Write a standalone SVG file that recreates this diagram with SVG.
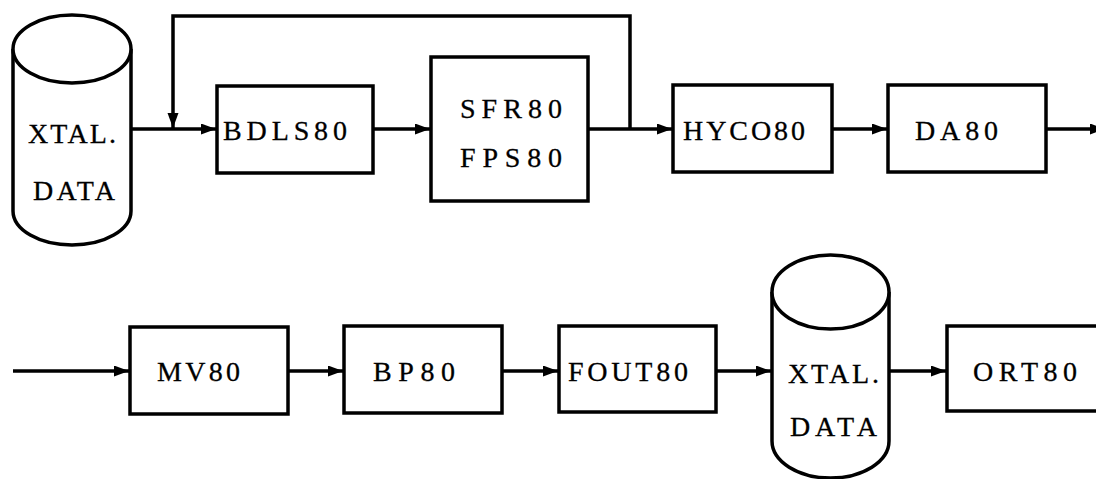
<svg xmlns="http://www.w3.org/2000/svg" width="1096" height="479" viewBox="0 0 1096 479">
<style>
.box{fill:#fff;stroke:#000;stroke-width:3.5}
.cyl{fill:#fff;stroke:#000;stroke-width:3.5}
.t{font-family:"Liberation Serif","Times New Roman",serif;font-size:28px;fill:#000;stroke:#000;stroke-width:0.3;dominant-baseline:central}
.c{fill:none;stroke:#000;stroke-width:3.5}
</style>
<defs>
<marker id="ah" markerUnits="userSpaceOnUse" markerWidth="16" markerHeight="12" refX="15" refY="5.5" orient="auto">
<path d="M0,0 L15,5.5 L0,11 z" fill="#000"/>
</marker>
</defs>
<rect width="1096" height="479" fill="#fff"/>
<g id="connectors">
<path class="c" d="M131,129 L216,129" marker-end="url(#ah)"/>
<path class="c" d="M630,129 L630,16 L173,16 L173,128" marker-end="url(#ah)"/>
<path class="c" d="M373,129 L430,129" marker-end="url(#ah)"/>
<path class="c" d="M588,129 L672,129" marker-end="url(#ah)"/>
<path class="c" d="M832,129 L887,129" marker-end="url(#ah)"/>
<path class="c" d="M1046,129 L1105,129" marker-end="url(#ah)"/>
<path class="c" d="M13,371 L129,371" marker-end="url(#ah)"/>
<path class="c" d="M288,371 L343,371" marker-end="url(#ah)"/>
<path class="c" d="M502,371 L558,371" marker-end="url(#ah)"/>
<path class="c" d="M716,371 L771,371" marker-end="url(#ah)"/>
<path class="c" d="M889,371 L946,371" marker-end="url(#ah)"/>
</g>
<g id="xtal1">
<path class="cyl" d="M13,49 L13,211 A59,34 0 0 0 131,211 L131,49"/>
<ellipse class="cyl" cx="72" cy="49" rx="59" ry="34"/>
<text class="t" x="28" y="133" textLength="88" lengthAdjust="spacing">XTAL.</text>
<text class="t" x="33" y="190" textLength="82" lengthAdjust="spacing">DATA</text>
</g>
<g id="bdls80">
<rect class="box" x="217" y="86" width="156" height="87"/>
<text class="t" x="223" y="130" textLength="124" lengthAdjust="spacing">BDLS80</text>
</g>
<g id="sfr80">
<rect class="box" x="431" y="57" width="157" height="144"/>
<text class="t" x="460" y="108" textLength="102" lengthAdjust="spacing">SFR80</text>
<text class="t" x="460" y="157" textLength="102" lengthAdjust="spacing">FPS80</text>
</g>
<g id="hyco80">
<rect class="box" x="673" y="85" width="159" height="87"/>
<text class="t" x="683" y="130" textLength="122" lengthAdjust="spacing">HYCO80</text>
</g>
<g id="da80">
<rect class="box" x="888" y="85" width="158" height="87"/>
<text class="t" x="915" y="130" textLength="83" lengthAdjust="spacing">DA80</text>
</g>
<g id="mv80">
<rect class="box" x="130" y="327" width="158" height="87"/>
<text class="t" x="157" y="371" textLength="83" lengthAdjust="spacing">MV80</text>
</g>
<g id="bp80">
<rect class="box" x="344" y="326" width="158" height="87"/>
<text class="t" x="373" y="371" textLength="82" lengthAdjust="spacing">BP80</text>
</g>
<g id="fout80">
<rect class="box" x="559" y="326" width="157" height="86"/>
<text class="t" x="568" y="371" textLength="120" lengthAdjust="spacing">FOUT80</text>
</g>
<g id="xtal2">
<path class="cyl" d="M772,292 L772,441 A58.5,37 0 0 0 889,441 L889,292"/>
<ellipse class="cyl" cx="830.5" cy="292" rx="58.5" ry="37"/>
<text class="t" x="788" y="373" textLength="91" lengthAdjust="spacing">XTAL.</text>
<text class="t" x="790" y="426" textLength="87" lengthAdjust="spacing">DATA</text>
</g>
<g id="ort80">
<rect class="box" x="947" y="326" width="170" height="85"/>
<text class="t" x="973" y="371" textLength="104" lengthAdjust="spacing">ORT80</text>
</g>
</svg>
